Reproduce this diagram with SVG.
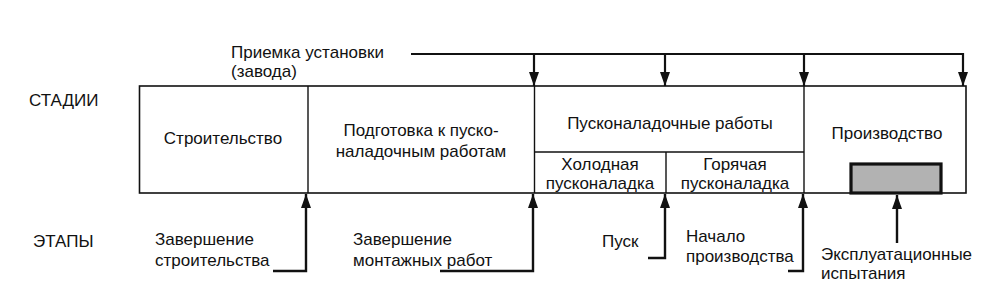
<svg xmlns="http://www.w3.org/2000/svg" width="1000" height="305" viewBox="0 0 1000 305">
<style>
text{font-family:"Liberation Sans",Arial,sans-serif;font-size:17px;fill:#111}
.c{text-anchor:middle}
.box{fill:none;stroke:#111;stroke-width:1.6}
.ln{fill:none;stroke:#111;stroke-width:1.4}
.conn{fill:none;stroke:#111;stroke-width:2.4}
.top{fill:none;stroke:#111;stroke-width:2.2}
</style>
<defs>
<marker id="ah" viewBox="0 0 14 10" refX="14" refY="5" markerWidth="14" markerHeight="10" markerUnits="userSpaceOnUse" orient="auto">
<path d="M0,0 L14,5 L0,10 Z" fill="#111"/>
</marker>
</defs>
<rect width="1000" height="305" fill="#fff"/>
<text x="29" y="106">СТАДИИ</text>
<text x="33" y="247">ЭТАПЫ</text>
<g id="main-box">
<rect class="box" x="139.5" y="86" width="826.5" height="107"/>
</g>
<g id="stage-construction">
<line class="ln" x1="308" y1="86" x2="308" y2="193"/>
<text class="c" x="223" y="144">Строительство</text>
</g>
<g id="stage-preparation">
<line class="ln" x1="534.5" y1="86" x2="534.5" y2="193"/>
<text class="c" x="421" y="136">Подготовка к пуско-</text>
<text class="c" x="421" y="157">наладочным работам</text>
</g>
<g id="stage-commissioning">
<line class="ln" x1="804" y1="86" x2="804" y2="193"/>
<line class="ln" x1="534.5" y1="152" x2="804" y2="152"/>
<line class="ln" x1="666" y1="152" x2="666" y2="193"/>
<text class="c" x="670" y="129">Пусконаладочные работы</text>
<text class="c" x="600" y="170">Холодная</text>
<text class="c" x="600" y="189">пусконаладка</text>
<text class="c" x="735" y="170">Горячая</text>
<text class="c" x="735" y="189">пусконаладка</text>
</g>
<g id="stage-production">
<text class="c" x="887" y="139">Производство</text>
<rect x="851" y="164" width="90" height="29" fill="#b2b2b2" stroke="#111" stroke-width="3.2"/>
</g>
<g id="label-acceptance">
<text x="231" y="58">Приемка установки</text>
<text x="231" y="77">(завода)</text>
</g>
<g id="labels-stages">
<text x="155" y="245">Завершение</text>
<text x="155" y="266">строительства</text>
<text x="353" y="245">Завершение</text>
<text x="353" y="266">монтажных работ</text>
<text x="602" y="247">Пуск</text>
<text x="686" y="242">Начало</text>
<text x="686" y="262">производства</text>
<text x="821" y="260">Эксплуатационные</text>
<text x="821" y="279">испытания</text>
</g>
<g id="connectors">
<polyline class="top" points="411,54 963,54 963,86" marker-end="url(#ah)"/>
<line class="top" x1="534" y1="54" x2="534" y2="86" marker-end="url(#ah)"/>
<line class="top" x1="665" y1="54" x2="665" y2="86" marker-end="url(#ah)"/>
<line class="top" x1="804" y1="54" x2="804" y2="86" marker-end="url(#ah)"/>
<polyline class="conn" points="273,271 306,271 306,194" marker-end="url(#ah)"/>
<polyline class="conn" points="440,271 533,271 533,194" marker-end="url(#ah)"/>
<polyline class="conn" points="648,258 665,258 665,194" marker-end="url(#ah)"/>
<polyline class="conn" points="788,271 803,271 803,194" marker-end="url(#ah)"/>
<line class="conn" x1="897" y1="243" x2="897" y2="195" marker-end="url(#ah)"/>
</g>
</svg>
